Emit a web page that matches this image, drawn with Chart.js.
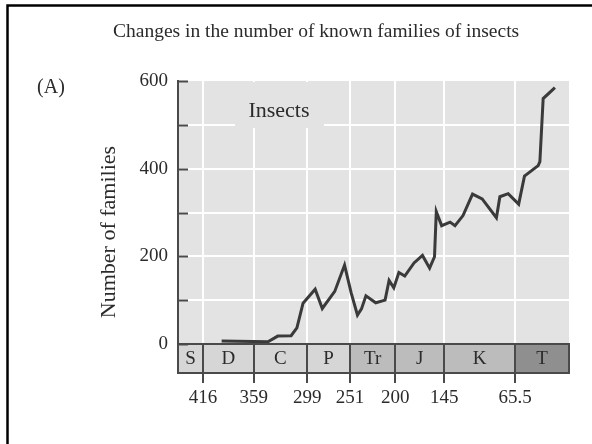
<!DOCTYPE html>
<html>
<head>
<meta charset="utf-8">
<script src="https://cdn.jsdelivr.net/npm/chart.js@4"></script>
<style>
  html, body { margin: 0; padding: 0; background: #fff; }
  #wrap { width: 592px; height: 444px; position: relative; }
</style>
</head>
<body>
<div id="wrap"><canvas id="c" width="592" height="444"></canvas></div>
<script>
// Known insect families through geological time (age in millions of years ago)
const ageMa = [395, 343, 332, 317, 310.5, 303.6, 290, 282, 268, 257, 249.5, 242.5, 238, 233,
  222, 211.5, 207, 201.7, 196, 189.4, 179, 169.5, 161.5, 156, 154, 148, 138.5, 133, 124,
  113.3, 102.5, 86.5, 82.6, 73.3, 61.5, 55, 39.6, 37.7, 34, 20.8];
const families = [7, 5, 18, 19, 37, 93, 125, 81, 120, 180, 116, 66, 80, 110,
  94, 100, 145, 128, 163, 155, 185, 202, 173, 199, 302, 270, 278, 270, 293,
  342, 331, 288, 336, 343, 319, 383, 407, 416, 560, 585];

// Geological periods shown in the band under the plot
const periodNames = ['S', 'D', 'C', 'P', 'Tr', 'J', 'K', 'T'];
const periodStart = [444, 416, 359, 299, 251, 200, 145, 65.5];
const periodEnd   = [416, 359, 299, 251, 200, 145, 65.5, 5];
const periodFill  = ['#d6d6d6', '#d6d6d6', '#d6d6d6', '#d6d6d6', '#bcbcbc', '#bcbcbc', '#bcbcbc', '#8f8f8f'];

// Boundary ages used as x-axis ticks
const boundaryTicks = [416, 359, 299, 251, 200, 145, 65.5];
const boundaryLabels = ['416', '359', '299', '251', '200', '145', '65.5'];

const yTicks = [0, 100, 200, 300, 400, 500, 600];

const SERIF = '"Liberation Serif", "DejaVu Serif", serif';
const INK = '#2b2b2b';
const AXIS = '#4a4a4a';
const PLOT_BG = '#e3e3e3';
const BAND_H = 29;

const decor = {
  id: 'decor',
  beforeDraw(chart) {
    const { ctx, chartArea: a, scales: { x } } = chart;
    ctx.save();
    ctx.fillStyle = PLOT_BG;
    ctx.fillRect(a.left, a.top, a.right - a.left, a.bottom - a.top);
    for (let i = 0; i < periodNames.length; i++) {
      const x0 = x.getPixelForValue(periodStart[i]);
      const x1 = x.getPixelForValue(periodEnd[i]);
      ctx.fillStyle = periodFill[i];
      ctx.fillRect(x0, a.bottom, x1 - x0, BAND_H);
    }
    ctx.restore();
  },
  beforeDatasetsDraw(chart) {
    const { ctx } = chart;
    ctx.save();
    // label box over the grid
    ctx.fillStyle = PLOT_BG;
    ctx.fillRect(235, chart.chartArea.top + 1, 89, 46);
    ctx.fillStyle = INK;
    ctx.font = '22px ' + SERIF;
    ctx.textAlign = 'center';
    ctx.textBaseline = 'middle';
    ctx.fillText('Insects', 279, 111);
    ctx.restore();
  },
  afterDraw(chart) {
    const { ctx, chartArea: a, scales: { x, y } } = chart;
    ctx.save();
    // inward ticks on the y axis
    ctx.strokeStyle = AXIS;
    ctx.lineWidth = 2;
    y.ticks.forEach(t => {
      const py = Math.round(y.getPixelForValue(t.value)) + 0.5;
      ctx.beginPath();
      ctx.moveTo(a.left, py);
      ctx.lineTo(a.left + 10, py);
      ctx.stroke();
    });
    // period band outline and names
    ctx.strokeRect(a.left, a.bottom, a.right - a.left, BAND_H);
    ctx.fillStyle = INK;
    ctx.font = '19px ' + SERIF;
    ctx.textAlign = 'center';
    ctx.textBaseline = 'middle';
    for (let i = 0; i < periodNames.length; i++) {
      const cx = (x.getPixelForValue(periodStart[i]) + x.getPixelForValue(periodEnd[i])) / 2;
      ctx.fillText(periodNames[i], cx, a.bottom + BAND_H / 2 + 1);
    }
    // heading, panel letter, axis title
    ctx.font = '19.5px ' + SERIF;
    ctx.textAlign = 'left';
    ctx.fillText('Changes in the number of known families of insects', 113, 32);
    ctx.font = '20px ' + SERIF;
    ctx.textAlign = 'center';
    ctx.fillText('(A)', 51, 88);
    ctx.save();
    ctx.translate(109, 232);
    ctx.rotate(-Math.PI / 2);
    ctx.font = '22px ' + SERIF;
    ctx.fillText('Number of families', 0, 0);
    ctx.restore();
    // frame
    ctx.strokeStyle = '#000';
    ctx.lineWidth = 2.5;
    ctx.beginPath();
    ctx.moveTo(7.5, 450);
    ctx.lineTo(7.5, 5.5);
    ctx.lineTo(600, 5.5);
    ctx.stroke();
    ctx.restore();
  }
};

new Chart(document.getElementById('c'), {
  type: 'line',
  data: {
    datasets: [{
      data: ageMa.map((a, i) => ({ x: a, y: families[i] })),
      borderColor: '#3a3a3a',
      borderWidth: 3,
      pointRadius: 0,
      tension: 0,
      fill: false
    }]
  },
  plugins: [decor],
  options: {
    responsive: false,
    animation: false,
    layout: { padding: { top: 81, right: 23, left: 0, bottom: 0 } },
    plugins: { legend: { display: false }, title: { display: false }, tooltip: { enabled: false } },
    scales: {
      x: {
        type: 'linear',
        reverse: true,
        min: 5,
        max: 444,
        afterBuildTicks(scale) { scale.ticks = boundaryTicks.map(v => ({ value: v })); },
        afterFit(scale) { scale.height = 100; },
        grid: { color: '#ffffff', lineWidth: 2, tickColor: AXIS, tickWidth: 2, tickLength: 39 },
        border: { display: true, color: AXIS, width: 2 },
        ticks: {
          autoSkip: false,
          maxRotation: 0,
          padding: 4,
          color: INK,
          font: { family: SERIF, size: 19 },
          callback(v) { const i = boundaryTicks.indexOf(v); return i >= 0 ? boundaryLabels[i] : ''; }
        }
      },
      y: {
        min: 0,
        max: 600,
        afterBuildTicks(scale) { scale.ticks = yTicks.map(v => ({ value: v })); },
        afterFit(scale) { scale.width = 178; },
        grid: {
          color: c => (c.tick && (c.tick.value === 0 || c.tick.value === 600)) ? 'rgba(0,0,0,0)' : '#ffffff',
          lineWidth: 2,
          drawTicks: false
        },
        border: { display: true, color: AXIS, width: 2 },
        ticks: {
          padding: 10,
          color: INK,
          font: { family: SERIF, size: 19 },
          callback(v) { return v % 200 === 0 ? String(v) : ''; }
        }
      }
    }
  }
});
</script>
</body>
</html>
